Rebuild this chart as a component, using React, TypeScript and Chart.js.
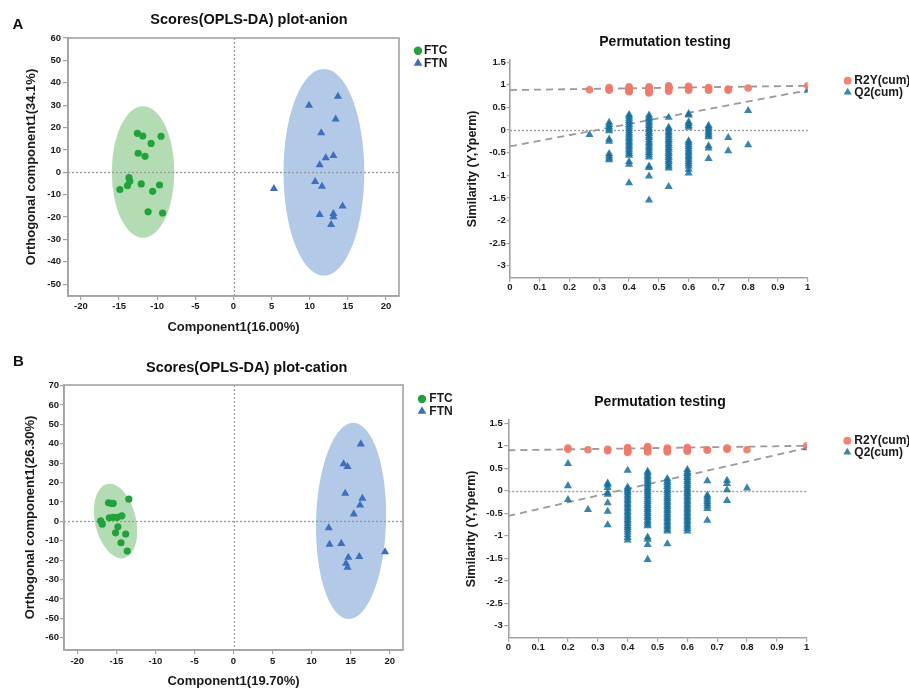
import React, { useEffect, useRef } from 'react';
import { Chart, registerables } from 'chart.js';

Chart.register(...registerables);

const FONT = "'Liberation Sans', Arial, Helvetica, sans-serif";

// ---------------- Data: Scores (OPLS-DA) anion ----------------
const anionFTC_x = [-12.6, -11.9, -9.5, -10.8, -12.5, -11.6, -13.7, -13.6, -13.9, -14.9, -12.1, -9.7, -10.6, -11.2, -9.3];
const anionFTC_y = [17.4, 16.2, 16.1, 12.9, 8.5, 7.1, -2.4, -4.0, -6.0, -7.7, -5.2, -5.7, -8.5, -17.7, -18.2];
const anionFTN_x = [9.9, 13.7, 13.4, 11.5, 13.1, 12.1, 11.3, 10.7, 11.6, 5.3, 14.3, 11.3, 13.1, 13.1, 12.8];
const anionFTN_y = [29.9, 33.9, 23.7, 17.6, 7.4, 6.4, 3.3, -4.2, -6.3, -7.3, -15.2, -19.0, -18.5, -20.0, -23.4];
// confidence ellipses: [centerX, centerY, radiusX, radiusY, tiltDeg]
const anionEllipseFTC = [-11.86, 0.1, 4.1, 29.4, 0];
const anionEllipseFTN = [11.85, 0, 5.3, 46.2, 0];

// ---------------- Data: Scores (OPLS-DA) cation ----------------
const cationFTC_x = [-13.4, -16.0, -15.6, -15.4, -15.9, -15.4, -14.9, -14.3, -17.0, -16.8, -14.8, -15.1, -13.8, -14.4, -13.6];
const cationFTC_y = [11.5, 9.6, 9.3, 9.3, 1.9, 2.1, 2.1, 2.9, 0.3, -1.4, -2.8, -5.9, -6.5, -11.0, -15.3];
const cationFTN_x = [16.3, 14.1, 14.6, 14.3, 16.5, 16.2, 15.4, 12.2, 12.3, 13.8, 19.4, 16.1, 14.7, 14.4, 14.6];
const cationFTN_y = [39.9, 29.6, 28.2, 14.4, 11.9, 8.4, 3.8, -3.3, -11.9, -11.4, -15.7, -18.2, -18.6, -21.7, -23.7];
const cationEllipseFTC = [-15.1, 0.17, 2.62, 19.6, -13];
const cationEllipseFTN = [15.05, 0.26, 4.48, 50.6, 1.5];

// ---------------- Ticks ----------------
const scoreXTicks = [-20, -15, -10, -5, 0, 5, 10, 15, 20];
const anionYTicks = [-50, -40, -30, -20, -10, 0, 10, 20, 30, 40, 50, 60];
const cationYTicks = [-60, -50, -40, -30, -20, -10, 0, 10, 20, 30, 40, 50, 60, 70];
const permXTicks = [0, 0.1, 0.2, 0.3, 0.4, 0.5, 0.6, 0.7, 0.8, 0.9, 1];
const permYTicks = [-3, -2.5, -2, -1.5, -1, -0.5, 0, 0.5, 1, 1.5];

// ---------------- Data: Permutation testing ----------------
const permCols = [0.2, 0.267, 0.333, 0.4, 0.467, 0.533, 0.6, 0.667, 0.733, 0.8, 1];

const permA_R2Y = [
  [],
  [0.89],
  [0.94, 0.91, 0.88],
  [0.96, 0.93, 0.9, 0.87, 0.85],
  [0.96, 0.93, 0.9, 0.87, 0.84, 0.82],
  [0.98, 0.95, 0.92, 0.89, 0.86],
  [0.97, 0.94, 0.91, 0.88],
  [0.94, 0.91, 0.88],
  [0.91, 0.88],
  [0.93],
  [0.98],
];
const permA_Q2 = [
  [],
  [-0.1],
  [0.17, 0.12, 0.07, 0.02, -0.02, -0.2, -0.25, -0.52, -0.57, -0.62, -0.66],
  [0.34, 0.3, 0.26, 0.21, 0.17, 0.12, 0.08, 0.03, -0.02, -0.07, -0.11, -0.16, -0.2, -0.25, -0.29, -0.34, -0.38, -0.43, -0.47, -0.52, -0.56, -0.7, -0.76, -1.17],
  [0.33, 0.28, 0.24, 0.19, 0.15, 0.1, 0.05, 0.01, -0.04, -0.08, -0.13, -0.17, -0.22, -0.27, -0.31, -0.36, -0.4, -0.45, -0.5, -0.55, -0.6, -0.8, -0.83, -1.02, -1.55],
  [0.28, 0.06, 0.02, -0.03, -0.07, -0.12, -0.16, -0.21, -0.25, -0.3, -0.34, -0.39, -0.43, -0.48, -0.52, -0.57, -0.61, -0.66, -0.7, -0.75, -0.8, -0.84, -1.25],
  [0.36, 0.33, 0.18, 0.14, 0.1, 0.06, -0.24, -0.28, -0.33, -0.37, -0.42, -0.47, -0.51, -0.56, -0.6, -0.65, -0.7, -0.75, -0.8, -0.87, -0.95],
  [0.1, 0.06, 0.02, -0.03, -0.07, -0.11, -0.15, -0.35, -0.4, -0.63],
  [-0.17, -0.46],
  [0.43, -0.33],
  [0.88],
];
const permA_R2Y_fit = [0.885, 0.98]; // at x = 0 and x = 1
const permA_Q2_fit = [-0.36, 0.88];

const permB_R2Y = [
  [0.95, 0.92],
  [0.91],
  [0.92, 0.89],
  [0.96, 0.93, 0.9, 0.87, 0.85],
  [0.98, 0.95, 0.92, 0.89, 0.86],
  [0.95, 0.92, 0.89, 0.86],
  [0.96, 0.93, 0.9, 0.88],
  [0.91, 0.9],
  [0.95, 0.92],
  [0.91],
  [1.0],
];
const permB_Q2 = [
  [0.6, 0.11, -0.2],
  [-0.42],
  [0.17, 0.13, 0.07, -0.05, -0.08, -0.27, -0.46, -0.76],
  [0.45, 0.08, 0.04, -0.01, -0.05, -0.1, -0.14, -0.19, -0.23, -0.28, -0.32, -0.37, -0.41, -0.46, -0.5, -0.55, -0.59, -0.64, -0.68, -0.73, -0.78, -0.82, -0.87, -0.92, -0.98, -1.04, -1.1],
  [0.43, 0.39, 0.34, 0.3, 0.25, 0.21, 0.16, 0.12, 0.07, 0.03, -0.02, -0.06, -0.11, -0.15, -0.2, -0.24, -0.29, -0.33, -0.38, -0.42, -0.47, -0.51, -0.56, -0.6, -0.65, -0.69, -0.74, -0.78, -1.03, -1.08, -1.2, -1.53],
  [0.27, 0.22, 0.18, 0.13, 0.09, 0.04, 0, -0.05, -0.09, -0.14, -0.18, -0.23, -0.27, -0.32, -0.36, -0.41, -0.45, -0.5, -0.54, -0.59, -0.63, -0.68, -0.72, -0.77, -0.81, -0.86, -0.9, -1.18],
  [0.47, 0.42, 0.38, 0.33, 0.29, 0.24, 0.2, 0.15, 0.11, 0.06, 0.02, -0.03, -0.07, -0.12, -0.16, -0.21, -0.25, -0.3, -0.34, -0.39, -0.43, -0.48, -0.52, -0.57, -0.61, -0.66, -0.7, -0.75, -0.79, -0.84, -0.9],
  [0.22, -0.1, -0.14, -0.19, -0.24, -0.29, -0.34, -0.4, -0.66],
  [0.23, 0.16, 0.02, -0.22],
  [0.06],
  [0.95],
];
const permB_R2Y_fit = [0.9, 1.0];
const permB_Q2_fit = [-0.56, 0.95];

// ---------------- Styles ----------------
const GREEN = '#22A23A';
const BLUE = '#3E6EBE';
const ELL_GREEN = '#B4DCB3';
const ELL_BLUE = '#B3C9E8';
const SALMON = 'rgba(242,122,104,0.92)';
const TEAL = 'rgba(22,112,160,0.85)';
const AXIS = '#A3A3A3';
const TXT = '#1a1a1a';

const zip = (xs: number[], ys: number[]) => xs.map((x, i) => ({ x, y: ys[i] }));
const flatCols = (cols: number[], vals: number[][]) =>
  cols.flatMap((c, i) => vals[i].map((v) => ({ x: c, y: v })));

function drawMarker(ctx: CanvasRenderingContext2D, style: string, x: number, y: number, r: number, color: string) {
  ctx.save();
  ctx.fillStyle = color;
  ctx.beginPath();
  if (style === 'triangle') {
    let rad = 0;
    ctx.moveTo(x + Math.sin(rad) * r, y - Math.cos(rad) * r);
    rad += (2 * Math.PI) / 3;
    ctx.lineTo(x + Math.sin(rad) * r, y - Math.cos(rad) * r);
    rad += (2 * Math.PI) / 3;
    ctx.lineTo(x + Math.sin(rad) * r, y - Math.cos(rad) * r);
    ctx.closePath();
  } else {
    ctx.arc(x, y, r, 0, Math.PI * 2);
  }
  ctx.fill();
  ctx.restore();
}

type LegendSpec = { x: number; ys: number[]; textX: number; size: number; radii: number[] };

function overlayPlugin(opts: {
  ellipses?: { e: number[]; fill: string }[];
  zeroX?: boolean;
  zeroY?: boolean;
  box?: boolean;
  legend: LegendSpec;
}) {
  return {
    id: 'overlay',
    beforeDatasetsDraw(chart: any) {
      const { ctx, chartArea: ca } = chart;
      const xs = chart.scales.x;
      const ys = chart.scales.y;
      (opts.ellipses || []).forEach(({ e, fill }) => {
        const cx = xs.getPixelForValue(e[0]);
        const cy = ys.getPixelForValue(e[1]);
        const rx = Math.abs(xs.getPixelForValue(e[0] + e[2]) - cx);
        const ry = Math.abs(ys.getPixelForValue(e[1] + e[3]) - cy);
        ctx.save();
        ctx.beginPath();
        ctx.ellipse(cx, cy, rx, ry, (e[4] * Math.PI) / 180, 0, Math.PI * 2);
        ctx.fillStyle = fill;
        ctx.fill();
        ctx.restore();
      });
      ctx.save();
      ctx.strokeStyle = '#9a9a9a';
      ctx.lineWidth = 1.3;
      ctx.setLineDash([2, 2]);
      if (opts.zeroY) {
        const py = Math.round(ys.getPixelForValue(0)) + 0.5;
        ctx.beginPath();
        ctx.moveTo(ca.left, py);
        ctx.lineTo(ca.right, py);
        ctx.stroke();
      }
      if (opts.zeroX) {
        const px = Math.round(xs.getPixelForValue(0)) + 0.5;
        ctx.beginPath();
        ctx.moveTo(px, ca.top);
        ctx.lineTo(px, ca.bottom);
        ctx.stroke();
      }
      ctx.restore();
    },
    afterDraw(chart: any) {
      const { ctx, chartArea: ca } = chart;
      if (opts.box) {
        ctx.save();
        ctx.strokeStyle = AXIS;
        ctx.lineWidth = 1.6;
        ctx.strokeRect(ca.left, ca.top, ca.right - ca.left, ca.bottom - ca.top);
        ctx.restore();
      }
      const lg = opts.legend;
      const items = chart.data.datasets.filter((d: any) => d.legendItem);
      items.forEach((d: any, i: number) => {
        drawMarker(ctx, d.pointStyle, lg.x, lg.ys[i], lg.radii[i], d.backgroundColor);
        ctx.save();
        ctx.fillStyle = TXT;
        ctx.font = `bold ${lg.size}px ${FONT}`;
        ctx.textBaseline = 'middle';
        ctx.textAlign = 'left';
        ctx.fillText(d.label, lg.textX, lg.ys[i]);
        ctx.restore();
      });
    },
  };
}

type AxisSpec = {
  min: number;
  max: number;
  ticks: number[];
  size: number; // width (y) or height (x) of the axis box
  tickLen: number;
  tickPad: number;
  title?: string;
  titleSize?: number;
  titlePad?: number;
};

function axis(a: AxisSpec, isX: boolean) {
  return {
    type: 'linear',
    position: isX ? 'bottom' : 'left',
    min: a.min,
    max: a.max,
    afterBuildTicks: (s: any) => {
      s.ticks = a.ticks.map((v) => ({ value: v }));
    },
    afterFit: (s: any) => {
      if (isX) s.height = a.size;
      else s.width = a.size;
    },
    ticks: {
      autoSkip: false,
      maxRotation: 0,
      minRotation: 0,
      padding: a.tickPad,
      color: TXT,
      font: { family: FONT, size: 9.5, weight: 'bold' },
      callback: (v: any) => String(v),
    },
    grid: {
      display: true,
      drawOnChartArea: false,
      drawTicks: true,
      tickLength: a.tickLen,
      color: AXIS,
      lineWidth: 1.2,
    },
    border: { display: true, color: AXIS, width: 1.6 },
    title: a.title
      ? {
          display: true,
          text: a.title,
          color: TXT,
          font: { family: FONT, size: a.titleSize, weight: 'bold' },
          padding: isX ? { top: 0, bottom: a.titlePad } : { top: a.titlePad, bottom: 0 },
        }
      : { display: false },
  };
}

function scoresConfig(p: {
  ftc: { x: number; y: number }[];
  ftn: { x: number; y: number }[];
  ellFTC: number[];
  ellFTN: number[];
  padding: any;
  x: AxisSpec;
  y: AxisSpec;
  legend: LegendSpec;
}) {
  return {
    type: 'scatter',
    data: {
      datasets: [
        { label: 'FTC', legendItem: true, data: p.ftc, pointStyle: 'circle', pointRadius: 3.6, backgroundColor: GREEN, borderWidth: 0 },
        { label: 'FTN', legendItem: true, data: p.ftn, pointStyle: 'triangle', pointRadius: 4.7, backgroundColor: BLUE, borderWidth: 0 },
      ],
    },
    options: {
      responsive: false,
      animation: false,
      events: [],
      layout: { padding: p.padding },
      plugins: { legend: { display: false }, tooltip: { enabled: false }, title: { display: false } },
      scales: { x: axis(p.x, true), y: axis(p.y, false) },
    },
    plugins: [
      overlayPlugin({
        ellipses: [
          { e: p.ellFTC, fill: ELL_GREEN },
          { e: p.ellFTN, fill: ELL_BLUE },
        ],
        zeroX: true,
        zeroY: true,
        box: true,
        legend: p.legend,
      }),
    ],
  };
}

function permConfig(p: {
  r2y: number[][];
  q2: number[][];
  r2yFit: number[];
  q2Fit: number[];
  padding: any;
  x: AxisSpec;
  y: AxisSpec;
  legend: LegendSpec;
}) {
  const lineDs = (fit: number[]) => ({
    type: 'line',
    label: 'fit',
    data: [
      { x: 0, y: fit[0] },
      { x: 1, y: fit[1] },
    ],
    showLine: true,
    borderColor: '#9b9b9b',
    borderWidth: 1.8,
    borderDash: [7, 5],
    pointRadius: 0,
    fill: false,
  });
  return {
    type: 'scatter',
    data: {
      datasets: [
        { label: 'R2Y(cum)', legendItem: true, data: flatCols(permCols, p.r2y), pointStyle: 'circle', pointRadius: 3.8, backgroundColor: SALMON, borderWidth: 0 },
        { label: 'Q2(cum)', legendItem: true, data: flatCols(permCols, p.q2), pointStyle: 'triangle', pointRadius: 4.7, backgroundColor: TEAL, borderWidth: 0 },
        lineDs(p.r2yFit),
        lineDs(p.q2Fit),
      ],
    },
    options: {
      responsive: false,
      animation: false,
      events: [],
      layout: { padding: p.padding },
      plugins: { legend: { display: false }, tooltip: { enabled: false }, title: { display: false } },
      scales: { x: axis(p.x, true), y: axis(p.y, false) },
    },
    plugins: [overlayPlugin({ zeroY: true, legend: p.legend })],
  };
}

function ChartBox({ left, top, width, height, make }: { left: number; top: number; width: number; height: number; make: () => any }) {
  const ref = useRef<HTMLCanvasElement | null>(null);
  useEffect(() => {
    if (!ref.current) return;
    const chart = new Chart(ref.current, make());
    return () => chart.destroy();
  }, []);
  return (
    <div style={{ position: 'absolute', left, top, width, height }}>
      <canvas ref={ref} width={width} height={height} style={{ display: 'block', width, height }} />
    </div>
  );
}

function Text({ x, y, size, children }: { x: number; y: number; size: number; children: string }) {
  return (
    <div
      style={{
        position: 'absolute',
        left: x,
        top: y,
        transform: 'translate(-50%, -50%)',
        fontFamily: FONT,
        fontWeight: 'bold',
        fontSize: size,
        lineHeight: 1,
        color: '#111',
        whiteSpace: 'nowrap',
      }}
    >
      {children}
    </div>
  );
}

export default function App() {
  return (
    <div style={{ position: 'absolute', left: 0, top: 0, width: 909, height: 689, background: '#fff', overflow: 'hidden' }}>
      <ChartBox
        left={0}
        top={0}
        width={460}
        height={340}
        make={() =>
          scoresConfig({
            ftc: zip(anionFTC_x, anionFTC_y),
            ftn: zip(anionFTN_x, anionFTN_y),
            ellFTC: anionEllipseFTC,
            ellFTN: anionEllipseFTN,
            padding: { top: 38, right: 61, bottom: 0, left: 0 },
            x: { min: -21.7, max: 21.7, ticks: scoreXTicks, size: 44, tickLen: 4, tickPad: 1, title: 'Component1(16.00%)', titleSize: 13, titlePad: 4.5 },
            y: { min: -55.3, max: 60, ticks: anionYTicks, size: 68, tickLen: 5, tickPad: 2, title: 'Orthogonal component1(34.1%)', titleSize: 13, titlePad: 24 },
            legend: { x: 418, ys: [50.7, 63.3], textX: 424, size: 12, radii: [4.2, 5] },
          })
        }
      />
      <ChartBox
        left={0}
        top={340}
        width={460}
        height={349}
        make={() =>
          scoresConfig({
            ftc: zip(cationFTC_x, cationFTC_y),
            ftn: zip(cationFTN_x, cationFTN_y),
            ellFTC: cationEllipseFTC,
            ellFTN: cationEllipseFTN,
            padding: { top: 45, right: 57, bottom: 0, left: 0 },
            x: { min: -21.7, max: 21.7, ticks: scoreXTicks, size: 39, tickLen: 4, tickPad: 1.3, title: 'Component1(19.70%)', titleSize: 13, titlePad: 0 },
            y: { min: -66.3, max: 70.35, ticks: cationYTicks, size: 64, tickLen: 4, tickPad: 1, title: 'Orthogonal component1(26.30%)', titleSize: 13, titlePad: 22.2 },
            legend: { x: 422, ys: [59, 71.3], textX: 429.3, size: 12, radii: [4.2, 5] },
          })
        }
      />
      <ChartBox
        left={460}
        top={0}
        width={449}
        height={340}
        make={() =>
          permConfig({
            r2y: permA_R2Y,
            q2: permA_Q2,
            r2yFit: permA_R2Y_fit,
            q2Fit: permA_Q2_fit,
            padding: { top: 60, right: 101.3, bottom: 0, left: 0 },
            x: { min: 0, max: 1, ticks: permXTicks, size: 62.3, tickLen: 4, tickPad: 0 },
            y: { min: -3.265, max: 1.55, ticks: permYTicks, size: 50, tickLen: 3.3, tickPad: 1, title: 'Similarity (Y,Yperm)', titleSize: 12.5, titlePad: 5.2 },
            legend: { x: 387.7, ys: [80.7, 92.3], textX: 394.3, size: 12, radii: [3.9, 4.6] },
          })
        }
      />
      <ChartBox
        left={460}
        top={340}
        width={449}
        height={349}
        make={() =>
          permConfig({
            r2y: permB_R2Y,
            q2: permB_Q2,
            r2yFit: permB_R2Y_fit,
            q2Fit: permB_Q2_fit,
            padding: { top: 80, right: 102.3, bottom: 0, left: 0 },
            x: { min: 0, max: 1, ticks: permXTicks, size: 51.3, tickLen: 4, tickPad: 0.3 },
            y: { min: -3.267, max: 1.573, ticks: permYTicks, size: 48.3, tickLen: 4, tickPad: 1.6, title: 'Similarity (Y,Yperm)', titleSize: 12.5, titlePad: 4.2 },
            legend: { x: 387.3, ys: [100.7, 112.3], textX: 394.3, size: 12, radii: [3.9, 4.6] },
          })
        }
      />
      <Text x={18} y={23.3} size={15}>A</Text>
      <Text x={18.3} y={359.8} size={15}>B</Text>
      <Text x={249} y={19} size={14.5}>Scores(OPLS-DA) plot-anion</Text>
      <Text x={246.7} y={366.5} size={14.5}>Scores(OPLS-DA) plot-cation</Text>
      <Text x={665} y={41.2} size={14}>Permutation testing</Text>
      <Text x={660} y={401.2} size={14}>Permutation testing</Text>
    </div>
  );
}
